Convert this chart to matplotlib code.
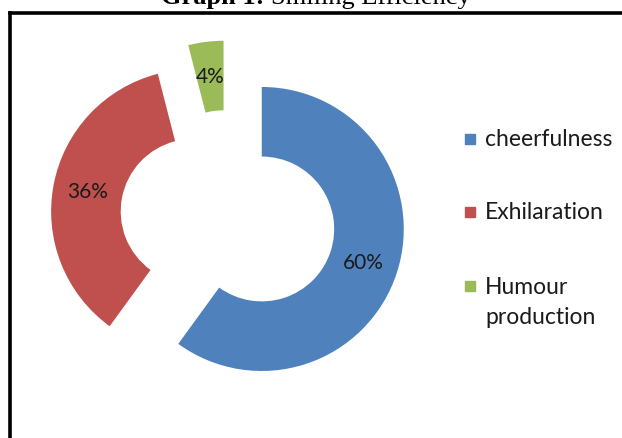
import matplotlib
matplotlib.use("Agg")
import matplotlib.pyplot as plt
from matplotlib.lines import Line2D
from matplotlib.patches import Rectangle

# data
labels = ["cheerfulness", "Exhilaration", "Humour\nproduction"]
values = [60, 36, 4]
colors = ["#4F81BD", "#C0504D", "#9BBB59"]

W, H = 622, 439
fig = plt.figure(figsize=(W / 100, H / 100), dpi=100)

# donut: centre at (228, 219) px, radius 142 px
R = 142
cx, cy = 228, H - 219
ax = fig.add_axes([(cx - 1.5 * R) / W, (cy - 1.5 * R) / H, 3 * R / W, 3 * R / H])
wedges, texts, pcts = ax.pie(values, colors=colors, startangle=90, counterclock=False,
                             explode=[0.25] * len(values),
                             wedgeprops=dict(width=0.49, edgecolor="none"),
                             autopct="%.0f%%", pctdistance=0.755,
                             textprops=dict(family="Lato", fontsize=15, color="#1a1a1a"))
ax.set_xlim(-1.5, 1.5)
ax.set_ylim(-1.5, 1.5)
ax.set_aspect("equal")
ax.axis("off")

# legend drawn by hand so the square sits next to the first line
leg_y = [140, 213, 287]
for lab, col, y in zip(labels, colors, leg_y):
    fig.add_artist(Rectangle((465 / W, (H - y - 5) / H), 10 / W, 10 / H,
                             color=col, transform=fig.transFigure))
    if "\n" in lab:
        fig.text(485 / W, (H - y + 10) / H, lab, family="Lato", fontsize=16.5,
                 color="#1a1a1a", va="top", linespacing=1.55)
    else:
        fig.text(485 / W, (H - y) / H, lab, family="Lato", fontsize=16.5,
                 color="#1a1a1a", va="center")

# chart border (clipped at right and bottom like the screenshot)
ytop = (H - 13.5) / H
xl = 10 / W
fig.add_artist(Line2D([xl, 1.02], [ytop, ytop], lw=2.6, color="black",
                      solid_capstyle="projecting", transform=fig.transFigure))
fig.add_artist(Line2D([xl, xl], [-0.02, ytop], lw=2.6, color="black",
                      solid_capstyle="projecting", transform=fig.transFigure))

# title, mostly cut off at the top as in the source
fig.text(264 / W, (H - 4) / H, "Graph 1:", family="Liberation Serif", weight="bold",
         fontsize=19, ha="right", va="baseline")
fig.text(271 / W, (H - 4) / H, "Smiling Efficiency", family="Liberation Serif",
         fontsize=19, ha="left", va="baseline")

fig.savefig("out.png", dpi=100)
